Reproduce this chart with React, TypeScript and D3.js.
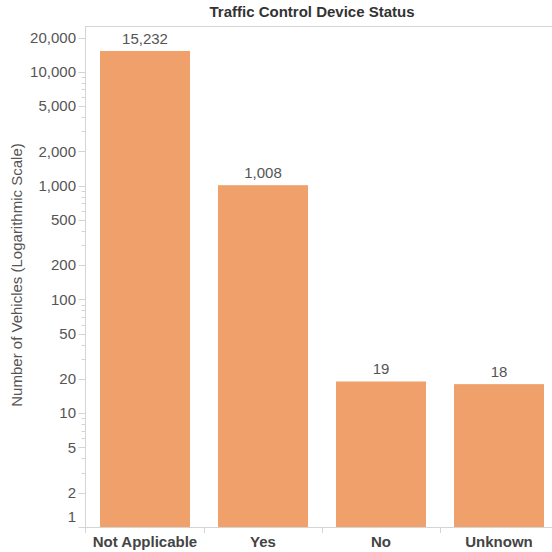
import React from "react";
import * as d3 from "d3";

const categories = ["Not Applicable", "Yes", "No", "Unknown"];
const values = [15232, 1008, 19, 18];
const majorTicks = [1, 2, 5, 10, 20, 50, 100, 200, 500, 1000, 2000, 5000, 10000, 20000];
const chartTitle = "Traffic Control Device Status";
const yTitle = "Number of Vehicles (Logarithmic Scale)";

const W = 552;
const H = 552;
const left = 85.5;
const top = 26.5;
const bottom = 527;
const FONT = "Arial, 'Liberation Sans', sans-serif";

export default function App() {
  const y = d3.scaleLog().domain([1, 25000]).range([bottom, top]);
  const x = d3
    .scaleBand<string>()
    .domain(categories)
    .range([86, 86 + 118 * categories.length])
    .paddingInner(28 / 118)
    .paddingOuter(14 / 118);
  const step = x.step();
  const fmt = d3.format(",");

  const minor: number[] = [];
  for (let d = 1; d <= 10000; d *= 10) {
    for (const m of [3, 4, 6, 7, 8, 9]) {
      const v = d * m;
      if (v <= 25000) minor.push(v);
    }
  }

  return (
    <svg
      width={W}
      height={H}
      style={{ position: "absolute", left: 0, top: 0, background: "#fff" }}
      fontFamily={FONT}
    >
      <text x={312} y={17} textAnchor="middle" fontSize={15} fontWeight="bold" fill="#333">
        {chartTitle}
      </text>
      {/* borders */}
      <line x1={left} x2={W} y1={top} y2={top} stroke="#d4d4d4" />
      <line x1={left} x2={left} y1={top} y2={bottom + 6} stroke="#d4d4d4" />
      <line x1={left} x2={W} y1={bottom + 0.5} y2={bottom + 0.5} stroke="#d4d4d4" />
      {/* category dividers */}
      {categories.slice(1).map((c) => {
        const xx = Math.round((x(c) as number) - (step - x.bandwidth()) / 2) + 0.5;
        return <line key={c} x1={xx} x2={xx} y1={bottom} y2={bottom + 6} stroke="#d4d4d4" />;
      })}
      {/* minor ticks */}
      {minor.map((v) => (
        <line
          key={"m" + v}
          x1={left - 4}
          x2={left}
          y1={Math.round(y(v)) + 0.5}
          y2={Math.round(y(v)) + 0.5}
          stroke="#d4d4d4"
        />
      ))}
      {/* major ticks */}
      {majorTicks.map((v) => {
        const yy = Math.round(y(v)) + 0.5;
        const ly = Math.min(y(v), bottom - 10);
        return (
          <g key={"t" + v}>
            <line x1={left - 7} x2={left} y1={yy} y2={yy} stroke="#d4d4d4" />
            <text x={76} y={ly} dy="0.35em" textAnchor="end" fontSize={15} fill="#555">
              {fmt(v)}
            </text>
          </g>
        );
      })}
      {/* bars */}
      {categories.map((c, i) => {
        const bx = x(c) as number;
        const by = y(values[i]);
        return (
          <g key={c}>
            <rect x={bx} y={by} width={x.bandwidth()} height={bottom - by} fill="#f0a06a" />
            <text
              x={bx + x.bandwidth() / 2}
              y={by - 7}
              textAnchor="middle"
              fontSize={15}
              fill="#555"
            >
              {fmt(values[i])}
            </text>
            <text
              x={bx + x.bandwidth() / 2}
              y={547}
              textAnchor="middle"
              fontSize={15}
              fontWeight="bold"
              fill="#444"
            >
              {c}
            </text>
          </g>
        );
      })}
      <text
        transform={`translate(22, 275) rotate(-90)`}
        textAnchor="middle"
        fontSize={15}
        fill="#555"
      >
        {yTitle}
      </text>
    </svg>
  );
}
